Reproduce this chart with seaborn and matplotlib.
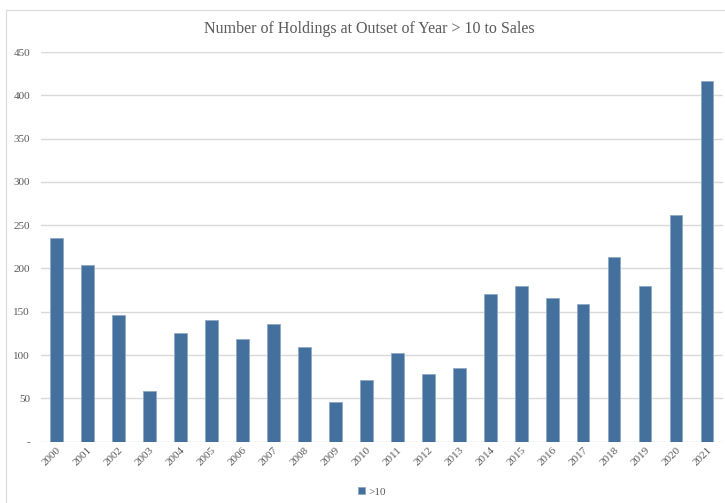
import pandas as pd
import matplotlib.pyplot as plt
import seaborn as sns
from matplotlib.patches import Rectangle

years = [str(y) for y in range(2000, 2022)]
holdings = [235, 204, 146, 58, 126, 140, 118, 136, 109, 46, 71,
            102, 78, 85, 170, 180, 166, 159, 213, 180, 262, 416]
series_name = ">10"
y_ticks = [0, 50, 100, 150, 200, 250, 300, 350, 400, 450]
y_tick_labels = ["-", "50", "100", "150", "200", "250", "300", "350", "400", "450"]

df = pd.DataFrame({"year": years, "holdings": holdings, "series": series_name})

sns.set_theme(style="white")
plt.rcParams["font.family"] = ["Liberation Serif", "DejaVu Serif"]

fig = plt.figure(figsize=(7.25, 5.03), dpi=100)
ax = fig.add_axes([0.0566, 0.122, 0.94, 0.7746])

sns.barplot(data=df, x="year", y="holdings", hue="series", palette=["#43709D"],
            width=0.41, saturation=1, edgecolor="#8FA9C6", linewidth=0.6, ax=ax)

ax.set_ylim(0, 450)
ax.set_yticks(y_ticks)
ax.set_yticklabels(y_tick_labels)
ax.yaxis.grid(True, color="#D9D9D9", linewidth=1.0)
ax.set_axisbelow(True)
for s in ax.spines.values():
    s.set_visible(False)
ax.set_xlabel("")
ax.set_ylabel("")
ax.tick_params(axis="y", labelsize=8, labelcolor="#595959", length=0, pad=8)
ax.tick_params(axis="x", labelsize=8, labelcolor="#595959", length=0, pad=3)
plt.setp(ax.get_xticklabels(), rotation=45, ha="right", rotation_mode="anchor")

fig.text(0.51, 0.942, "Number of Holdings at Outset of Year > 10 to Sales",
         ha="center", va="center", fontsize=11.5, color="#595959")

sns.move_legend(ax, "center", bbox_to_anchor=(0.513, 0.022),
                bbox_transform=fig.transFigure, frameon=False, title=None,
                fontsize=8, handlelength=0.6, handleheight=0.6, handletextpad=0.3)
for t in ax.get_legend().get_texts():
    t.set_color("#595959")

fig.patches.append(Rectangle((6 / 725, -0.01), 1.0, 1 - 10 / 503 + 0.01,
                             transform=fig.transFigure, fill=False,
                             edgecolor="#D9D9D9", linewidth=0.8, clip_on=False))

fig.savefig("out.png", dpi=100)
